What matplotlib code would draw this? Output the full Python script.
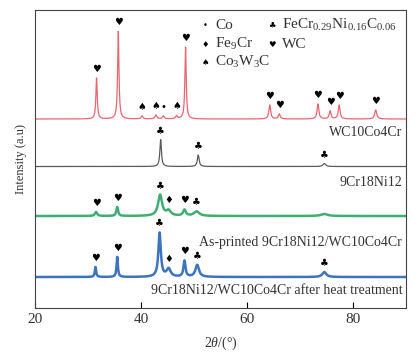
import numpy as np
import matplotlib
matplotlib.use("Agg")
import matplotlib.pyplot as plt

plt.rcParams["font.family"] = ["Liberation Serif", "DejaVu Sans"]
plt.rcParams["mathtext.fontset"] = "custom"
plt.rcParams["mathtext.rm"] = "Liberation Serif"
plt.rcParams["mathtext.it"] = "Liberation Serif:italic"

# phase symbols
CO, FE9CR, CO3W3C, FECR, WC = "•", "♦", "♠", "♣", "♥"

# (2theta, height, fwhm, marker) for each pattern; baseline in arbitrary units
red_base = 189
red_peaks = [
    (31.6, 41, 0.30, WC), (35.7, 88, 0.30, WC), (40.2, 3, 0.4, CO3W3C),
    (42.8, 4, 0.4, CO3W3C), (44.2, 3, 0.4, CO), (46.7, 3, 0.4, CO3W3C),
    (48.4, 72, 0.30, WC), (64.3, 14, 0.40, WC), (66.1, 5, 0.40, WC),
    (73.4, 15, 0.40, WC), (75.7, 8, 0.40, WC), (77.4, 14, 0.40, WC),
    (84.3, 9, 0.45, WC),
]

gray_base = 141.5
gray_peaks = [(43.7, 27, 0.35, FECR), (50.8, 11.5, 0.40, FECR), (74.6, 3, 0.6, FECR)]

green_base = 92
green_peaks = [
    (31.5, 4, 0.5, WC), (35.5, 9, 0.4, WC), (43.6, 21, 0.9, FECR),
    (45.2, 5, 1.0, FE9CR), (48.2, 6, 0.6, WC), (50.5, 4.5, 1.2, FECR),
    (74.6, 2, 1.5, None),
]

blue_base = 31
blue_peaks = [
    (31.4, 10, 0.30, WC), (35.5, 20, 0.30, WC), (43.5, 44, 0.55, FECR),
    (45.2, 8, 0.9, FE9CR), (48.2, 16, 0.45, WC), (50.6, 12, 0.8, FECR),
    (74.6, 5, 0.9, FECR),
]

labels = ["WC10Co4Cr", "9Cr18Ni12", "As-printed 9Cr18Ni12/WC10Co4Cr",
          "9Cr18Ni12/WC10Co4Cr after heat treatment"]
label_y = [176, 126, 66, 18]

legend_items = [(CO, "Co"), (FE9CR, "Fe$_9$Cr"), (CO3W3C, "Co$_3$W$_3$C"),
                (FECR, "FeCr$_{0.29}$Ni$_{0.16}$C$_{0.06}$"), (WC, "WC")]


def pattern(x, base, peaks):
    y = np.full_like(x, base, dtype=float)
    for pos, h, w, _ in peaks:
        g = w / 2
        y += h * g**2 / ((x - pos) ** 2 + g**2)
    return y


fig = plt.figure(figsize=(4.18, 3.64), dpi=100)
ax = fig.add_axes([0.084, 0.1538, 0.887, 0.8187])

x = np.linspace(20, 90, 3000)
series = [
    (red_base, red_peaks, "#e8666e", 0.9),
    (gray_base, gray_peaks, "#5a5a5a", 0.9),
    (green_base, green_peaks, "#3fae72", 1.8),
    (blue_base, blue_peaks, "#3d74c2", 1.8),
]
for base, peaks, color, lw in series:
    y = pattern(x, base, peaks)
    ax.plot(x, y, color=color, lw=lw)
    for pos, h, w, m in peaks:
        if m is None:
            continue
        top = pattern(np.array([pos]), base, peaks)[0]
        ax.text(pos, top + 4, m, ha="center", va="bottom", fontsize=7,
                family=["DejaVu Sans"], color="black")

for lab, yy in zip(labels, label_y):
    ax.text(89.3, yy, lab, ha="right", va="center", fontsize=10, color="#333333")

# legend as text
cols = [(52.1, 54.0), (64.7, 66.6)]
rows = [283, 264, 246]
for i, (sym, name) in enumerate(legend_items):
    c = 0 if i < 3 else 1
    r = i if i < 3 else i - 3
    ax.text(cols[c][0], rows[r], sym, ha="center", va="center", fontsize=6,
            family=["DejaVu Sans"], color="black")
    ax.text(cols[c][1], rows[r], name, ha="left", va="center", fontsize=11,
            color="#333333")

ax.set_xlim(20, 90)
ax.set_ylim(0, 298)
ax.set_xticks([20, 40, 60, 80])
ax.set_yticks([])
ax.tick_params(axis="x", direction="in", labelsize=11, labelcolor="#333333", length=4)
ax.set_xlabel("2$\\mathit{\\theta}$/(°)", fontsize=10, color="#333333", labelpad=6)
ax.set_ylabel("Intensity (a.u)", fontsize=9, color="#333333", labelpad=6)
for s in ax.spines.values():
    s.set_color("#444444")

plt.savefig("out.png", dpi=100)
plt.close()
